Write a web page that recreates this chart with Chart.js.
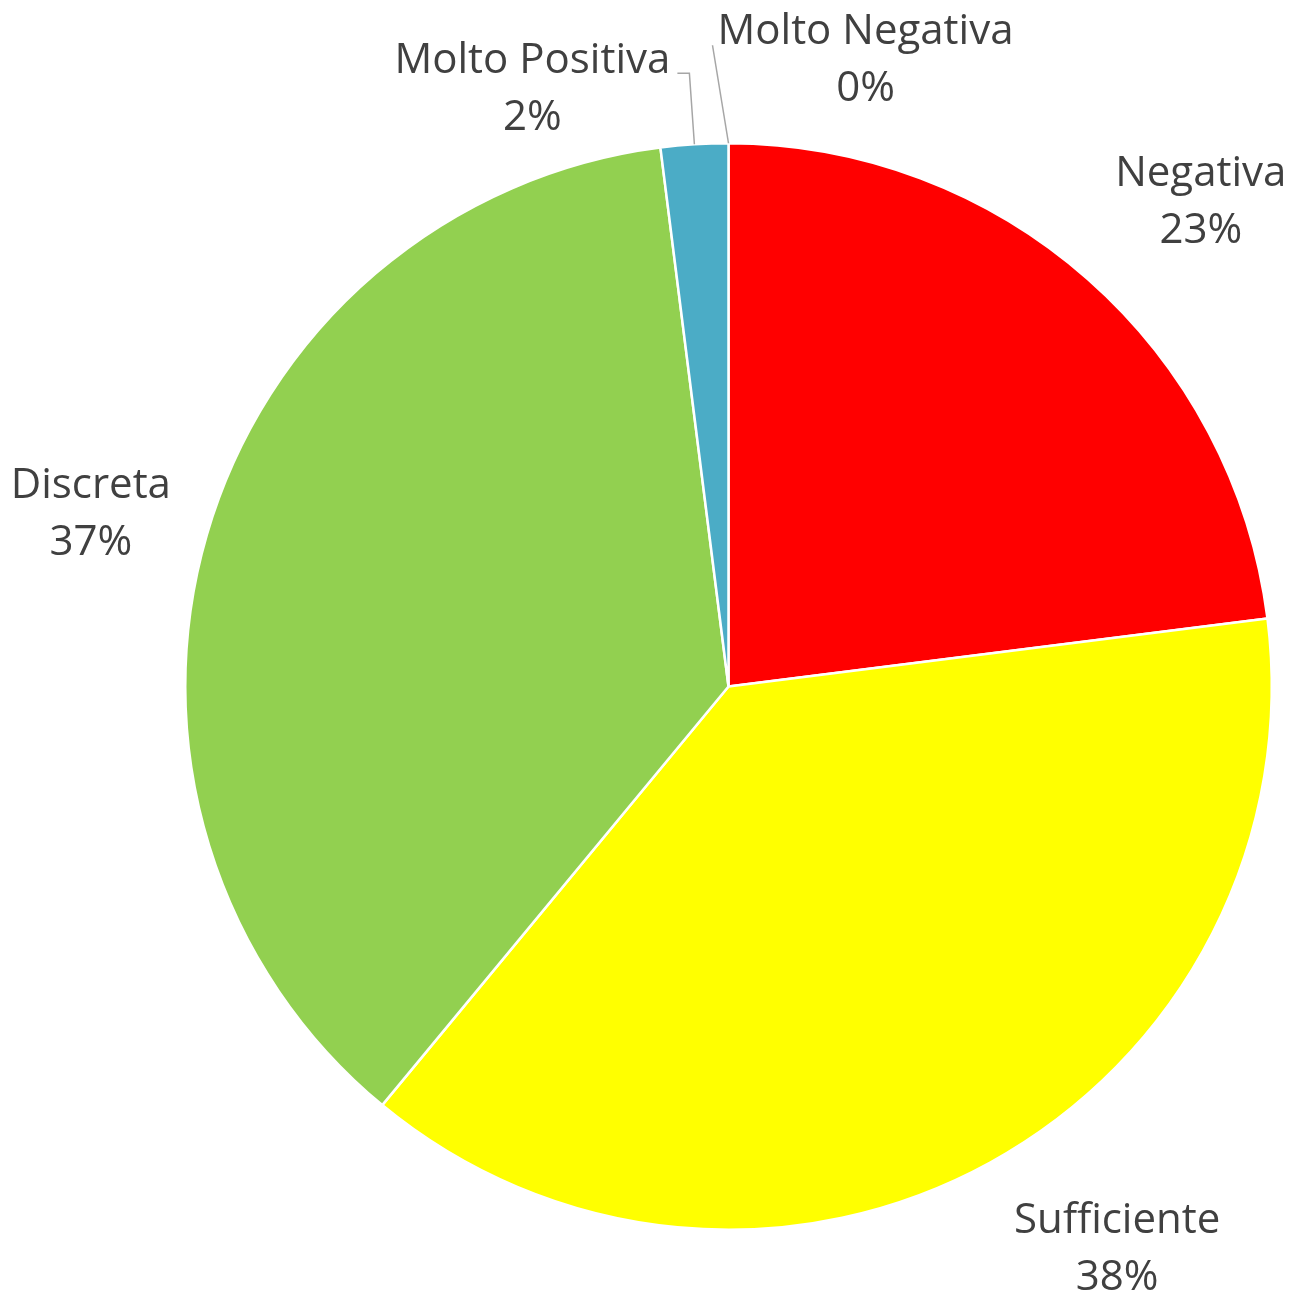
<!DOCTYPE html>
<html><head><meta charset="utf-8">
<script src="https://cdn.jsdelivr.net/npm/chart.js@4"></script>
<style>html,body{margin:0;padding:0;background:#fff}#wrap{width:1291px;height:1297px}</style>
</head><body><div id="wrap"><canvas id="c"></canvas></div>
<script>
const categories = ["Molto Negativa", "Negativa", "Sufficiente", "Discreta", "Molto Positiva"];
const values = [0, 23, 38, 37, 2];
const colors = ["#7F7F7F", "#FF0000", "#FFFF00", "#92D050", "#4BACC6"];
// label placement relative to the outer midpoint of each arc (px)
const labelNudge = [[137, -83], [113, -77], [127, 86], [-116, -21], [-162, -55]];
const leaderLines = [true, false, false, false, true];

const labelPlugin = {
  id: 'outLabels',
  afterDatasetsDraw(chart) {
    const ctx = chart.ctx;
    const meta = chart.getDatasetMeta(0);
    const total = values.reduce((a, b) => a + b, 0);
    ctx.save();
    ctx.font = '42px "Open Sans"';
    ctx.fillStyle = '#404040';
    ctx.textAlign = 'center';
    ctx.textBaseline = 'middle';
    meta.data.forEach((arc, i) => {
      const p = arc.getProps(['x', 'y', 'startAngle', 'endAngle', 'outerRadius'], true);
      const mid = (p.startAngle + p.endAngle) / 2;
      const ox = p.x + Math.cos(mid) * p.outerRadius;
      const oy = p.y + Math.sin(mid) * p.outerRadius;
      const lx = ox + labelNudge[i][0];
      const ly = oy + labelNudge[i][1];
      const pct = Math.round(values[i] / total * 100) + '%';
      ctx.fillText(categories[i], lx, ly - 28);
      ctx.fillText(pct, lx, ly + 29);
      if (leaderLines[i]) {
        ctx.strokeStyle = '#A6A6A6';
        ctx.lineWidth = 1.5;
        ctx.beginPath();
        if (i === 4) {
          ctx.moveTo(ox, oy);
          ctx.lineTo(ox - 5, oy - 71);
          ctx.lineTo(ox - 17, oy - 71);
        } else {
          ctx.moveTo(ox, oy);
          ctx.lineTo(ox - 16, oy - 98);
        }
        ctx.stroke();
      }
    });
    ctx.restore();
  }
};

new Chart(document.getElementById('c'), {
  type: 'pie',
  data: {
    labels: categories,
    datasets: [{
      data: values,
      backgroundColor: colors,
      borderColor: '#FFFFFF',
      borderWidth: 2.5
    }]
  },
  options: {
    responsive: true,
    maintainAspectRatio: false,
    animation: false,
    layout: { padding: { left: 184, right: 18, top: 142, bottom: 66 } },
    plugins: { legend: { display: false }, tooltip: { enabled: false } }
  },
  plugins: [labelPlugin]
});
</script></body></html>
